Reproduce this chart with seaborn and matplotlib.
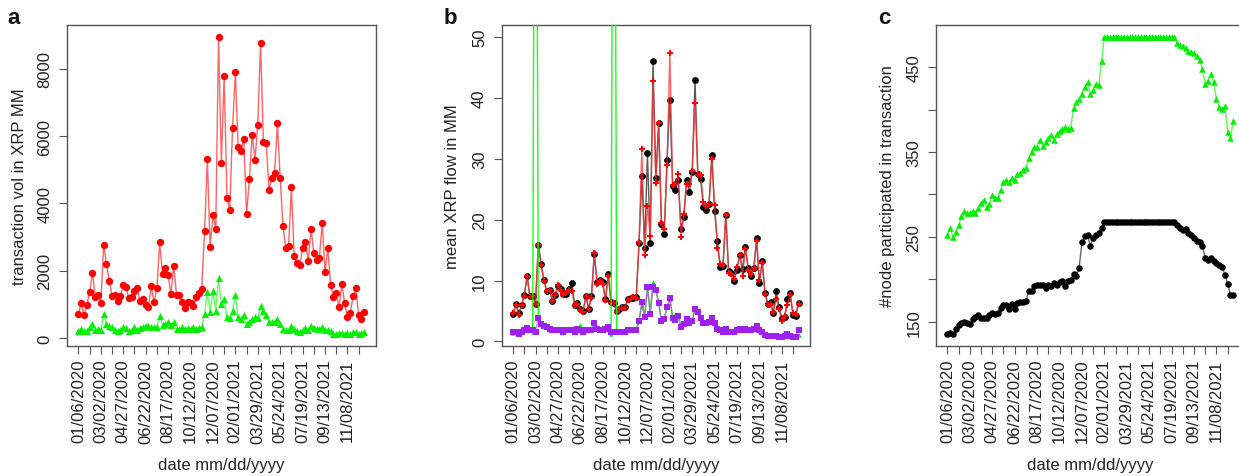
import numpy as np
import pandas as pd
import matplotlib
matplotlib.use("Agg")
import matplotlib.pyplot as plt
import seaborn as sns

sns.set_style("ticks")
plt.rcParams["font.family"] = ["Liberation Sans", "DejaVu Sans"]

# ---------------- data (weekly, 01/06/2020 ... 12/20/2021) ----------------
weeks = np.arange(103)

tick_labels = ["01/06/2020", "03/02/2020", "04/27/2020", "06/22/2020", "08/17/2020",
               "10/12/2020", "12/07/2020", "02/01/2021", "03/29/2021", "05/24/2021",
               "07/19/2021", "09/13/2021", "11/08/2021"]

# panel a: transaction volume in XRP MM
a_red = [700, 1040, 680, 980, 1360, 1930, 1230, 1270, 1030, 2770,
         2200, 1700, 1260, 1290, 1100, 1260, 1570, 1500, 1190, 1230,
         1390, 1480, 1100, 1160, 980, 930, 1530, 1060, 1490, 2840,
         1900, 2090, 1870, 1300, 2130, 1290, 1280, 1080, 890, 1080,
         1040, 940, 1230, 1340, 1450, 3170, 5320, 2710, 3660, 3240,
         8950, 5200, 7790, 4160, 3810, 6240, 7890, 5660, 5560, 5910,
         3680, 4720, 6030, 5300, 6330, 8750, 5810, 5790, 4400, 4740,
         4910, 6390, 4750, 3320, 2660, 2740, 4480, 2430, 2220, 2170,
         2660, 2860, 2300, 3240, 2520, 2330, 2380, 3420, 1950, 2660,
         1570, 1230, 1340, 910, 1600, 1040, 610, 740, 1240, 1480,
         690, 560, 780]
a_green = [218, 267, 198, 218, 317, 416, 238, 267, 238, 713,
           416, 366, 317, 238, 198, 238, 317, 290, 198, 238,
           317, 250, 290, 336, 366, 346, 317, 317, 336, 663,
           396, 416, 465, 386, 465, 267, 267, 317, 267, 290,
           267, 317, 267, 290, 317, 713, 1356, 762, 1405, 812,
           1772, 1010, 1158, 614, 594, 812, 1287, 614, 564, 683,
           416, 485, 564, 614, 584, 940, 812, 683, 465, 465,
           465, 564, 416, 267, 238, 238, 346, 267, 218, 188,
           238, 290, 238, 366, 290, 267, 267, 336, 238, 238,
           198, 119, 119, 139, 139, 119, 139, 119, 168, 168,
           119, 139, 168]

# panel b: mean XRP flow in MM
b_black = [4.5, 6.1, 4.6, 6.0, 7.6, 10.7, 7.4, 7.5, 6.2, 15.9,
           12.7, 10.1, 8.3, 8.5, 6.7, 7.7, 9.1, 8.6, 7.8, 7.8,
           8.6, 9.6, 6.0, 6.3, 5.3, 5.0, 7.5, 5.4, 7.5, 14.4,
           9.7, 10.1, 9.7, 6.9, 11.1, 6.4, 6.3, 5.0, 5.4, 5.6,
           5.6, 6.9, 7.2, 7.2, 7.3, 16.1, 27.2, 15.4, 30.9, 16.1,
           46.0, 26.8, 35.8, 19.2, 17.7, 29.8, 39.7, 25.6, 24.9, 26.5,
           18.5, 20.4, 26.5, 24.5, 27.8, 42.9, 27.5, 26.7, 22.0, 21.6,
           22.5, 30.6, 21.4, 16.5, 12.3, 12.4, 20.7, 11.6, 11.3, 10.0,
           11.8, 14.2, 11.9, 15.5, 12.1, 10.8, 12.1, 16.9, 9.6, 13.2,
           8.0, 6.2, 6.4, 4.6, 8.3, 5.7, 3.8, 4.0, 6.9, 7.9,
           4.3, 4.2, 6.3]
b_red = [4.6, 6.0, 4.3, 5.9, 7.5, 10.8, 7.3, 7.5, 6.1, 15.9,
         12.5, 10.0, 8.2, 8.4, 6.6, 7.6, 9.2, 8.4, 7.6, 7.9,
         8.4, 8.3, 5.9, 6.2, 5.2, 4.9, 7.4, 5.3, 7.2, 14.5,
         9.5, 10.0, 9.5, 6.8, 10.7, 6.3, 6.3, 4.9, 5.3, 5.5,
         5.5, 6.8, 7.0, 7.3, 7.2, 16.3, 31.6, 14.2, 22.3, 17.3,
         42.8, 26.0, 35.9, 19.4, 18.4, 28.9, 47.3, 25.7, 25.8, 27.5,
         17.2, 20.9, 25.9, 25.8, 28.0, 39.2, 27.4, 27.3, 22.9, 22.3,
         22.6, 30.0, 22.4, 15.4, 12.7, 12.6, 20.8, 11.3, 11.1, 10.2,
         12.3, 14.2, 10.8, 15.2, 11.8, 11.0, 12.0, 16.5, 10.1, 12.9,
         7.8, 6.0, 6.2, 4.8, 7.0, 5.4, 3.4, 4.2, 6.0, 7.6,
         4.6, 4.5, 6.2]
b_green = [1.4, 1.5, 1.2, 1.7, 1.8, 2.3, 1.9, 1.6, 150.0, 3.9,
           2.9, 2.6, 2.3, 2.0, 1.9, 1.8, 2.0, 1.8, 1.7, 1.8,
           1.8, 2.0, 1.5, 2.0, 2.7, 1.6, 1.9, 1.8, 1.9, 3.0,
           2.0, 1.9, 1.9, 2.1, 2.3, 1.3, 150.0, 1.5, 1.6, 1.5,
           1.6, 1.8, 1.8, 1.9, 1.9, 3.4, 6.0, 4.2, 8.7, 5.0,
           9.7, 8.6, 6.5, 3.4, 3.8, 5.6, 7.0, 3.9, 4.5, 4.2,
           2.4, 2.8, 3.7, 3.1, 3.4, 5.3, 4.9, 3.9, 3.0, 3.1,
           3.2, 4.2, 3.0, 2.0, 1.8, 1.5, 2.3, 1.6, 1.5, 1.5,
           1.8, 2.0, 1.9, 2.0, 1.9, 2.3, 2.0, 2.6, 1.9, 1.5,
           1.0, 0.9, 0.9, 0.9, 0.9, 0.8, 0.8, 0.9, 1.2, 0.9,
           0.8, 0.7, 1.0]
b_purple = [1.5, 1.5, 1.3, 1.5, 1.8, 2.2, 1.9, 1.8, 1.6, 3.9,
            2.9, 2.5, 2.3, 2.0, 1.9, 1.8, 1.9, 1.8, 1.6, 1.8,
            1.8, 1.9, 1.5, 2.0, 1.8, 1.6, 1.9, 1.8, 1.9, 3.1,
            2.0, 1.9, 1.9, 2.0, 2.3, 1.6, 1.6, 1.5, 1.6, 1.5,
            1.6, 1.8, 1.8, 1.9, 1.9, 3.4, 6.4, 4.0, 9.0, 4.5,
            9.0, 8.4, 6.3, 3.4, 3.7, 5.6, 7.1, 3.9, 3.5, 4.2,
            2.4, 2.8, 3.7, 3.1, 3.4, 5.4, 4.9, 3.9, 3.0, 3.1,
            3.2, 3.9, 3.0, 2.0, 1.8, 1.5, 2.0, 1.6, 1.5, 1.5,
            1.8, 2.0, 1.9, 2.0, 1.9, 1.8, 2.0, 2.6, 1.9, 1.5,
            1.0, 0.9, 0.9, 0.9, 0.9, 0.8, 0.8, 0.9, 1.2, 0.9,
            0.8, 0.7, 1.9]

# panel c: number of nodes participating in transactions
c_green = [251.7, 261, 249.4, 256, 263.5, 274, 280, 278, 278, 280.6,
           278, 283.8, 289.6, 293.5, 284.6, 288.4, 299.4, 296.3, 296, 305.3,
           315, 317, 314.3, 319.8, 317, 323.6, 324.8, 328.7, 331.5, 342.4,
           350.3, 356, 356, 364.7, 356.9, 362, 367, 370.6, 364, 371.7,
           374.5, 377.6, 379.6, 377.6, 378.8, 401.9, 409, 412, 418.7, 426.5,
           432.4, 418.7, 422.6, 430.4, 428.5, 457.8, 486, 486, 486, 486,
           486, 486, 486, 486, 486, 486, 486, 486, 486, 486,
           486, 486, 486, 486, 486, 486, 486, 486, 486, 486,
           486, 486, 478.5, 476, 475, 472, 469.5, 467.6, 467, 463.7,
           458, 448, 430, 434, 442, 432, 413, 403, 401, 404,
           374, 366, 387]
c_black = [135.9, 137, 136, 141, 146, 148.8, 150, 148.8, 146.9, 152.7,
           155.5, 157.8, 154.7, 153.9, 154.7, 157.8, 160.6, 158.6, 160.6, 165.6,
           169.6, 169.6, 164.5, 170.3, 165.2, 172.3, 173, 173.4, 174.3, 186.7,
           186, 191.8, 193.8, 193, 193.8, 189.9, 193.8, 191.8, 195.8, 193,
           197, 197.7, 191.8, 198.5, 199.7, 206.3, 203.6, 213.4, 243.9, 250.5,
           251.7, 239.5, 248.6, 252.4, 254.4, 261, 268, 268, 268, 268,
           268, 268, 268, 268, 268, 268, 268, 268, 268, 268,
           268, 268, 268, 268, 268, 268, 268, 268, 268, 268,
           268, 268, 264, 260, 258.4, 259.6, 254.4, 251.7, 248.6, 245.5,
           244, 239, 225, 223, 225, 221, 219, 217, 215, 205.5,
           194.6, 182, 182]

# ---------------- figure ----------------
W, H = 1239, 477
fig = plt.figure(figsize=(W / 100, H / 100), dpi=100)
bot = (H - 347.3) / H
hgt = 321.6 / H
ax_a = fig.add_axes([67 / W, bot, 308.7 / W, hgt])
ax_b = fig.add_axes([501.7 / W, bot, 308.3 / W, hgt])
ax_c = fig.add_axes([936 / W, bot, 308.7 / W, hgt])

GRAY = "#555555"
TXT = "#222222"


def series(ax, y, mcolor, lcolor, marker, s, k, lalpha=0.75):
    df = pd.DataFrame({"week": weeks, "v": y})
    sns.lineplot(data=df, x="week", y="v", ax=ax, color=lcolor, lw=1.0,
                 alpha=lalpha, estimator=None, sort=False, zorder=2 + 2 * k)
    sns.scatterplot(data=df, x="week", y="v", ax=ax, color=mcolor,
                    marker=marker, s=s, linewidth=0, zorder=3 + 2 * k,
                    clip_on=True)


# panel a
series(ax_a, a_red, "#ff0000", "#ff3030", "o", 28, 1)
series(ax_a, a_green, "#00ee00", "#30ff30", "^", 26, 0)
# panel b
series(ax_b, b_black, "#000000", "#222222", "o", 24, 0)
series(ax_b, b_red, "#ff0000", "#ff3030", "P", 14, 1)
series(ax_b, b_green, "#00e000", "#00ff00", "^", 10, 2, lalpha=0.9)
series(ax_b, b_purple, "#a020f0", "#b050f0", "s", 18, 3)
# panel c
series(ax_c, c_black, "#000000", "#333333", "o", 22, 0)
series(ax_c, c_green, "#00ee00", "#20ff20", "^", 22, 1)

xticks = list(range(0, 101, 4))
xlabels = []
for j in range(len(xticks)):
    xlabels.append(tick_labels[j // 2] if j % 2 == 0 else "")

cfg = [
    (ax_a, "transaction vol in XRP MM", (-247, 9307), [0, 2000, 4000, 6000, 8000],
     ["0", "2000", "4000", "6000", "8000"], -0.1523, "a", 14),
    (ax_b, "mean XRP flow in MM", (-0.8, 52.0), [0, 10, 20, 30, 40, 50],
     ["0", "10", "20", "30", "40", "50"], -0.158, "b", 450),
    (ax_c, "#node participated in transaction", (121, 500),
     [150, 200, 250, 300, 350, 400, 450],
     ["150", "", "250", "", "350", "", "450"], -0.1555, "c", 884),
]

for ax, ylab, ylim, yt, ytl, ylx, letter, lx in cfg:
    ax.set_xlim(-4.08, 106.08)
    ax.set_ylim(*ylim)
    ax.set_xticks(xticks)
    ax.set_xticklabels(xlabels, rotation=90, ha="center", va="top")
    ax.set_yticks(yt)
    ax.set_yticklabels(ytl, rotation=90, va="center")
    ax.tick_params(axis="both", direction="out", length=6, width=0.8,
                   color=GRAY, labelsize=12, labelcolor=TXT,
                   bottom=True, left=True, top=False, right=False)
    ax.tick_params(axis="y", pad=4.5)
    ax.tick_params(axis="x", pad=3)
    for sp in ax.spines.values():
        sp.set_visible(True)
        sp.set_color(GRAY)
        sp.set_linewidth(1.0)
    ax.set_xlabel("date mm/dd/yyyy", fontsize=12, color=TXT)
    ax.xaxis.set_label_coords(0.5, -0.366)
    ax.xaxis.label.set_va("center")
    ax.set_ylabel(ylab, fontsize=12, color=TXT)
    ax.yaxis.set_label_coords(ylx, 0.5)
    ax.yaxis.label.set_va("center")
    fig.text(lx / W, (H - 24) / H, letter, fontsize=16, fontweight="bold",
             ha="center", va="baseline", color="#111111")

fig.savefig("out.png", dpi=100)
